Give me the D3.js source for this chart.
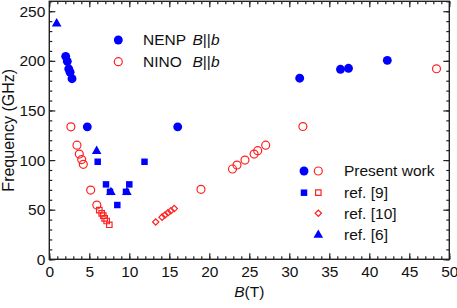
<!DOCTYPE html>
<html lang="en">
  <head>
    <meta charset="UTF-8" />
    <title>Frequency vs B</title>
    <script src="https://d3js.org/d3.v7.min.js"></script>
    <style>
      body {
        margin: 0;
        background: #fff;
        font-family: "Liberation Sans", Arial, sans-serif;
      }
      .axis path,
      .axis line {
        stroke: #222;
        stroke-width: 1.2px;
      }
      .axis text {
        font-size: 15.5px;
        fill: #111;
      }
    </style>
  </head>
  <body>
    <svg id="chart" width="457" height="308"></svg>
    <script>
      // NENP B||b, present work (filled blue circles)
      const nenpB = [2.05, 2.25, 2.43, 2.6, 2.84, 4.75, 16.05, 31.3, 36.4, 37.4, 42.25];
      const nenpF = [204.5, 199.5, 192, 188.5, 182, 133.5, 133.5, 182.5, 191.5, 192.5, 200.5];

      // NINO B||b, present work (open red circles)
      const ninoB = [2.7, 3.46, 3.75, 4.05, 4.25, 5.17, 5.94, 18.96, 22.9, 23.46, 24.46, 25.6, 26.05, 27.05, 31.7, 48.4];
      const ninoF = [133.5, 115, 106, 100.5, 95.7, 69.8, 54.7, 70.5, 91, 95, 100, 106, 109.5, 115, 133.8, 192];

      // ref. [9] filled blue squares
      const ref9BlueB = [6.05, 7.09, 7.59, 8.5, 9.59, 10.0, 11.9];
      const ref9BlueF = [98.3, 75.5, 68, 54.7, 68, 75.5, 98.3];

      // ref. [9] open red squares
      const ref9RedB = [6.25, 6.55, 6.75, 6.92, 7.17, 7.5];
      const ref9RedF = [49.6, 46.3, 44, 41.3, 38.6, 34.8];

      // ref. [10] open red diamonds
      const ref10B = [13.3, 14.1, 14.46, 14.84, 15.2, 15.62];
      const ref10F = [37.6, 42.5, 44.6, 46.8, 49, 51.1];

      // ref. [6] filled blue triangles
      const ref6B = [0.92, 5.92, 7.7, 9.7];
      const ref6F = [237.5, 109, 67.5, 67.5];

      const xTicks = [0, 5, 10, 15, 20, 25, 30, 35, 40, 45, 50];
      const yTicks = [0, 50, 100, 150, 200, 250];

      const blue = "#0000ff";
      const red = "#ff2020";

      const width = 457;
      const height = 308;
      const margin = { top: 1.3, right: 7.7, bottom: 48.7, left: 49.3 };

      const svg = d3.select("#chart");

      const x = d3.scaleLinear().domain([0, 50]).range([margin.left, width - margin.right]);
      const y = d3.scaleLinear().domain([0, 260]).range([height - margin.bottom, margin.top]);

      const innerW = width - margin.left - margin.right;
      const innerH = height - margin.top - margin.bottom;

      // minor ticks
      const xMinor = d3.range(0, 51, 1);
      const yMinor = d3.range(0, 261, 10);

      function addAxis(axis, tx, ty, withText) {
        const g = svg
          .append("g")
          .attr("class", "axis")
          .attr("transform", `translate(${tx},${ty})`)
          .call(axis);
        if (!withText) g.selectAll("text").remove();
        g.select(".domain").remove();
        return g;
      }

      // bottom
      addAxis(
        d3.axisBottom(x).tickValues(xMinor).tickSize(-3).tickFormat(""),
        0, height - margin.bottom, false
      );
      addAxis(
        d3.axisBottom(x).tickValues(xTicks).tickSize(-6).tickPadding(7),
        0, height - margin.bottom, true
      );
      // top
      addAxis(d3.axisTop(x).tickValues(xMinor).tickSize(-3).tickFormat(""), 0, margin.top, false);
      addAxis(d3.axisTop(x).tickValues(xTicks).tickSize(-6).tickFormat(""), 0, margin.top, false);
      // left
      addAxis(d3.axisLeft(y).tickValues(yMinor).tickSize(-3).tickFormat(""), margin.left, 0, false);
      addAxis(
        d3.axisLeft(y).tickValues(yTicks).tickSize(-6).tickPadding(4),
        margin.left, 0, true
      );
      // right
      addAxis(d3.axisRight(y).tickValues(yMinor).tickSize(-3).tickFormat(""), width - margin.right, 0, false);
      addAxis(d3.axisRight(y).tickValues(yTicks).tickSize(-6).tickFormat(""), width - margin.right, 0, false);

      svg
        .append("rect")
        .attr("x", margin.left)
        .attr("y", margin.top)
        .attr("width", innerW)
        .attr("height", innerH)
        .attr("fill", "none")
        .attr("stroke", "#222")
        .attr("stroke-width", 1.4);

      // axis titles
      svg
        .append("text")
        .attr("transform", `translate(8,${margin.top + innerH / 2}) rotate(-90)`)
        .attr("text-anchor", "middle")
        .attr("dy", "0.35em")
        .attr("font-size", "16px")
        .attr("fill", "#111")
        .text("Frequency (GHz)");

      const xt = svg
        .append("text")
        .attr("x", margin.left + innerW / 2)
        .attr("y", 297)
        .attr("text-anchor", "middle")
        .attr("font-size", "15.5px")
        .attr("fill", "#111");
      xt.append("tspan").attr("font-style", "italic").text("B");
      xt.append("tspan").text("(T)");

      const sym = {
        circle: d3.symbol().type(d3.symbolCircle),
        square: d3.symbol().type(d3.symbolSquare),
        triangle: d3.symbol().type(d3.symbolTriangle)
      };

      function symbolPath(type, size) {
        if (type === "diamond") return sym.square.size(size)();
        return sym[type].size(size)();
      }

      function drawSymbol(sel, type, size, fill, stroke) {
        sel
          .attr("d", symbolPath(type, size))
          .attr("fill", fill)
          .attr("stroke", stroke)
          .attr("stroke-width", 1.2);
      }

      function plot(bs, fs, type, size, fill, stroke) {
        const rot = type === "diamond" ? " rotate(45)" : "";
        svg
          .append("g")
          .selectAll("path")
          .data(bs.map((b, i) => [b, fs[i]]))
          .join("path")
          .attr("transform", (d) => `translate(${x(d[0])},${y(d[1])})${rot}`)
          .call(drawSymbol, type, size, fill, stroke);
      }

      plot(ref6B, ref6F, "triangle", 40, blue, "none");
      plot(ref9BlueB, ref9BlueF, "square", 42, blue, "none");
      plot(ref9RedB, ref9RedF, "square", 30, "none", red);
      plot(ref10B, ref10F, "diamond", 20, "none", red);
      plot(ninoB, ninoF, "circle", 50, "none", red);
      plot(nenpB, nenpF, "circle", 62, blue, "none");

      function legendSymbol(cx, cy, type, size, fill, stroke) {
        const rot = type === "diamond" ? " rotate(45)" : "";
        svg
          .append("path")
          .attr("transform", `translate(${cx},${cy})${rot}`)
          .call(drawSymbol, type, size, fill, stroke);
      }

      function bParB(tx, ty, label) {
        const t = svg
          .append("text")
          .attr("x", tx)
          .attr("y", ty)
          .attr("dy", "0.35em")
          .attr("font-size", "15.5px")
          .attr("fill", "#111");
        t.append("tspan").text(label);
        t.append("tspan").attr("x", 192.5).attr("font-style", "italic").text("B");
        t.append("tspan").text("||");
        t.append("tspan").attr("font-style", "italic").text("b");
      }

      // top legend
      legendSymbol(118.3, 40, "circle", 62, blue, "none");
      bParB(143, 40, "NENP");
      legendSymbol(118.3, 61.7, "circle", 50, "none", red);
      bParB(143, 61.7, "NINO");

      // bottom legend
      const legendRows = [
        { label: "Present work", y: 171, left: ["circle", 62, blue, "none"], right: ["circle", 50, "none", red] },
        { label: "ref. [9]", y: 192.7, left: ["square", 42, blue, "none"], right: ["square", 30, "none", red] },
        { label: "ref. [10]", y: 213.3, left: null, right: ["diamond", 20, "none", red] },
        { label: "ref. [6]", y: 235, left: null, right: ["triangle", 40, blue, "none"] }
      ];

      legendRows.forEach((r) => {
        if (r.left) legendSymbol(304, r.y, ...r.left);
        legendSymbol(318.3, r.y, ...r.right);
        svg
          .append("text")
          .attr("x", 344)
          .attr("y", r.y)
          .attr("dy", "0.35em")
          .attr("font-size", "15.5px")
          .attr("fill", "#111")
          .text(r.label);
      });
    </script>
  </body>
</html>
